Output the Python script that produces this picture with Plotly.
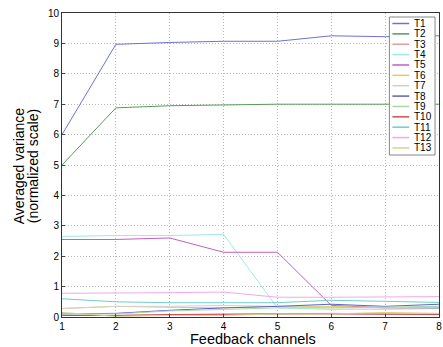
import plotly.graph_objects as go

channels = [1, 2, 3, 4, 5, 6, 7, 8]
names = ["T1", "T2", "T3", "T4", "T5", "T6", "T7", "T8", "T9", "T10", "T11", "T12", "T13"]
colors = ["#7070d8", "#5a9a5a", "#e0a0a0", "#a0e8e8", "#c060c0", "#d8d060", "#d0d0d0",
          "#6060c8", "#a8d8a8", "#cc5050", "#70cccc", "#f0a8f0", "#d8d090"]

T1 = [6.0, 8.97, 9.03, 9.07, 9.07, 9.25, 9.22, 9.25]
T2 = [5.0, 6.88, 6.95, 6.98, 7.0, 7.0, 7.0, 7.0]
T3 = [0.05, 0.05, 0.08, 0.1, 0.1, 0.12, 0.1, 0.1]
T4 = [2.65, 2.68, 2.68, 2.72, 0.3, 0.25, 0.25, 0.28]
T5 = [2.55, 2.55, 2.6, 2.13, 2.13, 0.38, 0.3, 0.3]
T6 = [0.28, 0.35, 0.32, 0.3, 0.35, 0.35, 0.3, 0.32]
T7 = [0.28, 0.35, 0.35, 0.38, 0.35, 0.3, 0.3, 0.35]
T8 = [0.1, 0.12, 0.22, 0.3, 0.35, 0.42, 0.35, 0.42]
T9 = [0.1, 0.1, 0.2, 0.25, 0.3, 0.3, 0.32, 0.35]
T10 = [0.05, 0.05, 0.08, 0.1, 0.1, 0.1, 0.08, 0.08]
T11 = [0.6, 0.5, 0.47, 0.47, 0.47, 0.55, 0.52, 0.48]
T12 = [0.78, 0.78, 0.8, 0.82, 0.65, 0.65, 0.65, 0.67]
T13 = [0.15, 0.02, 0.05, 0.05, 0.1, 0.1, 0.15, 0.12]
series = [T1, T2, T3, T4, T5, T6, T7, T8, T9, T10, T11, T12, T13]

y_ticks = [0, 1, 2, 3, 4, 5, 6, 7, 8, 9, 10]
y_title_lines = ["Averaged variance", "(normalized scale)"]
x_title = "Feedback channels"

fig = go.Figure()
for name, col, vals in zip(names, colors, series):
    fig.add_trace(go.Scatter(x=channels, y=vals, mode="lines", name=name,
                             line=dict(color=col, width=1), showlegend=False))

W, H = 443, 347
ml, mr, mt, mb = 62, 1, 13, 30
pw, ph = W - ml - mr, H - mt - mb
def px(x):
    return (x - ml) / pw
def py(y):
    return (H - mb - y) / ph

FONT = "Liberation Sans, Arial"
shapes = [dict(type="rect", xref="paper", yref="paper", x0=px(392), x1=px(438),
               y0=py(155), y1=py(17), line=dict(color="#888888", width=1),
               fillcolor="white", layer="above")]
annotations = []
# custom compact legend (MATLAB-style)
for i, (name, col) in enumerate(zip(names, colors)):
    yy = 23.5 + i * 10.37
    shapes.append(dict(type="line", xref="paper", yref="paper", x0=px(395), x1=px(412),
                       y0=py(yy), y1=py(yy), line=dict(color=col, width=1.5), layer="above"))
    annotations.append(dict(xref="paper", yref="paper", x=px(415), y=py(yy), text=name,
                            showarrow=False, xanchor="left", yanchor="middle",
                            font=dict(size=10, color="black", family=FONT)))
# axis titles
for xpix, txt in zip([19, 33], y_title_lines):
    annotations.append(dict(xref="paper", yref="paper", x=px(xpix), y=py(166), text=txt,
                            textangle=-90, showarrow=False, xanchor="center", yanchor="middle",
                            font=dict(size=14, color="black", family=FONT)))
annotations.append(dict(xref="paper", yref="paper", x=px(255), y=py(339), text=x_title,
                        showarrow=False, xanchor="center", yanchor="middle",
                        font=dict(size=14.5, color="black", family=FONT)))

fig.update_layout(
    width=W, height=H,
    margin=dict(l=ml, r=mr, t=mt, b=mb),
    paper_bgcolor="white", plot_bgcolor="white",
    font=dict(family=FONT, size=10, color="black"),
    shapes=shapes, annotations=annotations,
    xaxis=dict(range=[1, 8], tickvals=channels, showgrid=True, gridcolor="#b8b8b8",
               griddash="1px,2px", gridwidth=1, showline=True, linecolor="#333333", mirror=True,
               ticks="inside", ticklen=3, zeroline=False, ticklabeloverflow="allow",
               tickfont=dict(size=10)),
    yaxis=dict(range=[0, 10], tickvals=y_ticks, showgrid=True, gridcolor="#b8b8b8",
               griddash="1px,2px", gridwidth=1, showline=True, linecolor="#333333", mirror=True,
               ticks="inside", ticklen=3, zeroline=False, ticklabeloverflow="allow",
               tickfont=dict(size=10)),
)

fig.write_html("out.html", config={"displayModeBar": False},
               post_script="document.body.style.margin='0';document.body.style.overflow='hidden';")
